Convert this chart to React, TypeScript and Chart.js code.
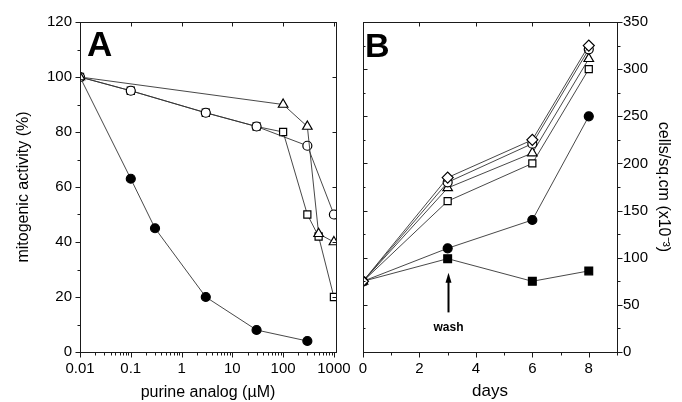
import React, { useEffect, useRef } from "react";
import { Chart, registerables } from "chart.js";
Chart.register(...registerables);

// ---------- Panel A data ----------
const concFilledCircleA = [0.01, 0.1, 0.3, 3, 30, 300];
const filledCircleA = [100, 63, 45, 20, 8, 4];
const concOpenCircleA = [0.01, 0.1, 3, 30, 300, 1000];
const openCircleA = [100, 95, 87, 82, 75, 50];
const concOpenSquareA = [0.01, 0.1, 3, 30, 100, 300, 500, 1000];
const openSquareA = [100, 95, 87, 82, 80, 50, 42, 20];
const concTriangleA = [0.01, 100, 300, 500, 1000];
const triangleA = [100, 90, 82, 43, 40];
const xTicksA = [0.01, 0.1, 1, 10, 100, 1000];
const xTickLabelsA = ["0.01", "0.1", "1", "10", "100", "1000"];
const minorMultipliersA = [2, 3, 4, 5, 6, 7, 8, 9];
const yTicksA = [0, 20, 40, 60, 80, 100, 120];
const yMinorA = [10, 30, 50, 70, 90, 110];

// ---------- Panel B data ----------
const daysB = [0, 3, 6, 8];
const diamondB = [75, 185, 225, 325];
const openCircleB = [75, 180, 221, 321];
const triangleB = [75, 174, 211, 311];
const openSquareB = [75, 160, 200, 300];
const filledCircleB = [75, 110, 140, 250];
const filledSquareB = [75, 99, 75, 86];
const xTicksB = [0, 2, 4, 6, 8];
const xMinorB = [1, 3, 5, 7, 9];
const yTicksB = [0, 50, 100, 150, 200, 250, 300, 350];
const yMinorB = [25, 75, 125, 175, 225, 275, 325];
const washDay = 3;
const washArrowFrom = 42;
const washArrowTo = 84;
const washLabelAt = 26;

const FONT = '"Liberation Sans", Arial, Helvetica, sans-serif';
Chart.defaults.font.family = FONT;
Chart.defaults.color = "#000";

const pts = (xs: number[], ys: number[]) => xs.map((x, i) => ({ x, y: ys[i] }));

// filled markers sit underneath the shared control point (first point), so hide them there
const ds = (data: any[], shape: string, filled: boolean, r: number) => ({
  data,
  pointStyle: shape,
  pointRadius: filled ? (c: any) => (c.dataIndex === 0 ? 0 : r) : r,
  pointBackgroundColor: filled ? "#000" : "#fff",
  pointBorderColor: "#000",
  pointBorderWidth: 1.2,
  borderColor: "#333",
  borderWidth: 0.9,
  showLine: true,
  fill: false,
  tension: 0,
});

type Side = "top" | "bottom" | "left" | "right";
type TickSet = { side: Side; values: number[]; len: number };

function drawFrame(chart: any, sets: TickSet[]) {
  const { ctx, chartArea: a } = chart;
  const xs = chart.scales.x;
  const ys = chart.scales.y;
  const L = Math.round(a.left) + 0.5;
  const R = Math.round(a.right) + 0.5;
  const T = Math.round(a.top) + 0.5;
  const B = Math.round(a.bottom) + 0.5;
  ctx.save();
  ctx.strokeStyle = "#1a1a1a";
  ctx.lineWidth = 1;
  ctx.strokeRect(L, T, R - L, B - T);
  ctx.beginPath();
  for (const s of sets) {
    for (const v of s.values) {
      if (s.side === "bottom" || s.side === "top") {
        const px = Math.round(xs.getPixelForValue(v)) + 0.5;
        const y0 = s.side === "bottom" ? B : T;
        const dir = s.side === "bottom" ? 1 : -1;
        ctx.moveTo(px, y0);
        ctx.lineTo(px, y0 + dir * s.len);
      } else {
        const py = Math.round(ys.getPixelForValue(v)) + 0.5;
        const x0 = s.side === "left" ? L : R;
        const dir = s.side === "left" ? -1 : 1;
        ctx.moveTo(x0, py);
        ctx.lineTo(x0 + dir * s.len, py);
      }
    }
  }
  ctx.stroke();
  ctx.restore();
}

const minorLogA: number[] = [];
xTicksA.slice(0, -1).forEach((d) => minorMultipliersA.forEach((m) => minorLogA.push(d * m)));

export default function App() {
  const refA = useRef<HTMLCanvasElement>(null);
  const refB = useRef<HTMLCanvasElement>(null);

  useEffect(() => {
    const chartA = new Chart(refA.current!, {
      type: "scatter",
      data: {
        datasets: [
          ds(pts(concTriangleA, triangleA), "triangle", false, 5.5),
          ds(pts(concOpenCircleA, openCircleA), "circle", false, 4.5),
          ds(pts(concOpenSquareA, openSquareA), "rect", false, 5),
          ds(pts(concFilledCircleA, filledCircleA), "circle", true, 4.5),
        ] as any,
      },
      options: {
        responsive: false,
        animation: false,
        events: [],
        layout: { padding: { top: 22, right: 24, left: 0, bottom: 0 } },
        plugins: { legend: { display: false }, tooltip: { enabled: false } },
        scales: {
          x: {
            type: "logarithmic",
            min: 0.01,
            max: 1100,
            afterBuildTicks: (s: any) => {
              s.ticks = xTicksA.map((v) => ({ value: v }));
            },
            afterFit: (s: any) => {
              s.height = 50;
            },
            grid: { display: false, drawTicks: false },
            border: { display: false },
            ticks: {
              padding: 8,
              autoSkip: false,
              maxRotation: 0,
              font: { size: 15 },
              color: "#000",
              callback: (_v: any, i: number) => xTickLabelsA[i],
            },
            title: {
              display: true,
              text: "purine analog (µM)",
              font: { size: 16 },
              color: "#000",
              padding: { top: 0, bottom: 0 },
            },
          },
          y: {
            type: "linear",
            min: 0,
            max: 120,
            afterBuildTicks: (s: any) => {
              s.ticks = yTicksA.map((v) => ({ value: v }));
            },
            afterFit: (s: any) => {
              s.width = 80;
            },
            grid: { display: false, drawTicks: false },
            border: { display: false },
            ticks: { padding: 8, font: { size: 15 }, color: "#000" },
            title: {
              display: true,
              text: "mitogenic activity (%)",
              font: { size: 16 },
              color: "#000",
              padding: { top: 14, bottom: 0 },
            },
          },
        },
      } as any,
      plugins: [
        {
          id: "frameA",
          afterDraw(chart: any) {
            drawFrame(chart, [
              { side: "bottom", values: xTicksA, len: 5 },
              { side: "bottom", values: minorLogA, len: 3 },
              { side: "top", values: xTicksA, len: -4 },
              { side: "left", values: yTicksA, len: 5 },
              { side: "left", values: yMinorA, len: 3 },
              { side: "right", values: yTicksA, len: -4 },
            ]);
            const ctx = chart.ctx;
            ctx.save();
            ctx.fillStyle = "#000";
            ctx.font = `bold 35px ${FONT}`;
            ctx.textAlign = "left";
            ctx.textBaseline = "alphabetic";
            ctx.fillText("A", chart.chartArea.left + 7, chart.chartArea.top + 34);
            ctx.restore();
          },
        },
      ],
    });

    const chartB = new Chart(refB.current!, {
      type: "scatter",
      data: {
        datasets: [
          ds(pts(daysB, diamondB), "rectRot", false, 5.5),
          ds(pts(daysB, openCircleB), "circle", false, 4.5),
          ds(pts(daysB, triangleB), "triangle", false, 5.5),
          ds(pts(daysB, openSquareB), "rect", false, 5),
          ds(pts(daysB, filledCircleB), "circle", true, 4.5),
          ds(pts(daysB, filledSquareB), "rect", true, 5.5),
        ] as any,
      },
      options: {
        responsive: false,
        animation: false,
        events: [],
        layout: { padding: { top: 22, right: 0, left: 23, bottom: 0 } },
        plugins: { legend: { display: false }, tooltip: { enabled: false } },
        scales: {
          x: {
            type: "linear",
            min: 0,
            max: 9,
            afterBuildTicks: (s: any) => {
              s.ticks = xTicksB.map((v) => ({ value: v }));
            },
            afterFit: (s: any) => {
              s.height = 50;
            },
            grid: { display: false, drawTicks: false },
            border: { display: false },
            ticks: { padding: 8, autoSkip: false, maxRotation: 0, font: { size: 15 }, color: "#000" },
            title: {
              display: true,
              text: "days",
              font: { size: 17 },
              color: "#000",
              padding: { top: 0, bottom: 0 },
            },
          },
          y: {
            type: "linear",
            position: "right",
            min: 0,
            max: 350,
            afterBuildTicks: (s: any) => {
              s.ticks = yTicksB.map((v) => ({ value: v }));
            },
            afterFit: (s: any) => {
              s.width = 65;
            },
            grid: { display: false, drawTicks: false },
            border: { display: false },
            ticks: { padding: 6, font: { size: 15 }, color: "#000" },
            title: {
              display: true,
              text: "cells/sq.cm (x10⁻³)",
              font: { size: 16 },
              color: "#000",
              padding: { top: 9, bottom: 0 },
            },
          },
        },
      } as any,
      plugins: [
        {
          id: "frameB",
          afterDraw(chart: any) {
            drawFrame(chart, [
              { side: "bottom", values: xTicksB, len: 5 },
              { side: "bottom", values: xMinorB, len: 3 },
              { side: "top", values: xTicksB, len: -4 },
              { side: "right", values: yTicksB, len: 5 },
              { side: "right", values: yMinorB, len: 3 },
              { side: "left", values: yTicksB, len: -4 },
              { side: "left", values: yMinorB, len: -2 },
            ]);
            const ctx = chart.ctx;
            const xs = chart.scales.x;
            const ys = chart.scales.y;
            ctx.save();
            ctx.fillStyle = "#000";
            ctx.font = `bold 34px ${FONT}`;
            ctx.textAlign = "left";
            ctx.textBaseline = "alphabetic";
            ctx.fillText("B", chart.chartArea.left + 2, chart.chartArea.top + 35);
            // wash arrow
            const ax = Math.round(xs.getPixelForValue(washDay)) + 0.5;
            const yTop = ys.getPixelForValue(washArrowTo);
            const yBot = ys.getPixelForValue(washArrowFrom);
            ctx.strokeStyle = "#000";
            ctx.lineWidth = 2;
            ctx.beginPath();
            ctx.moveTo(ax, yBot);
            ctx.lineTo(ax, yTop + 8);
            ctx.stroke();
            ctx.beginPath();
            ctx.moveTo(ax, yTop);
            ctx.lineTo(ax - 3, yTop + 10);
            ctx.lineTo(ax + 3, yTop + 10);
            ctx.closePath();
            ctx.fill();
            ctx.font = `bold 12px ${FONT}`;
            ctx.textAlign = "center";
            ctx.textBaseline = "middle";
            ctx.fillText("wash", ax, ys.getPixelForValue(washLabelAt));
            ctx.restore();
          },
        },
      ],
    });

    return () => {
      chartA.destroy();
      chartB.destroy();
    };
  }, []);

  return (
    <div style={{ position: "absolute", left: 0, top: 0, width: 682, height: 402, background: "#fff", overflow: "hidden" }}>
      <canvas ref={refA} width={360} height={402} style={{ position: "absolute", left: 0, top: 0 }} />
      <canvas ref={refB} width={342} height={402} style={{ position: "absolute", left: 340, top: 0 }} />
    </div>
  );
}
